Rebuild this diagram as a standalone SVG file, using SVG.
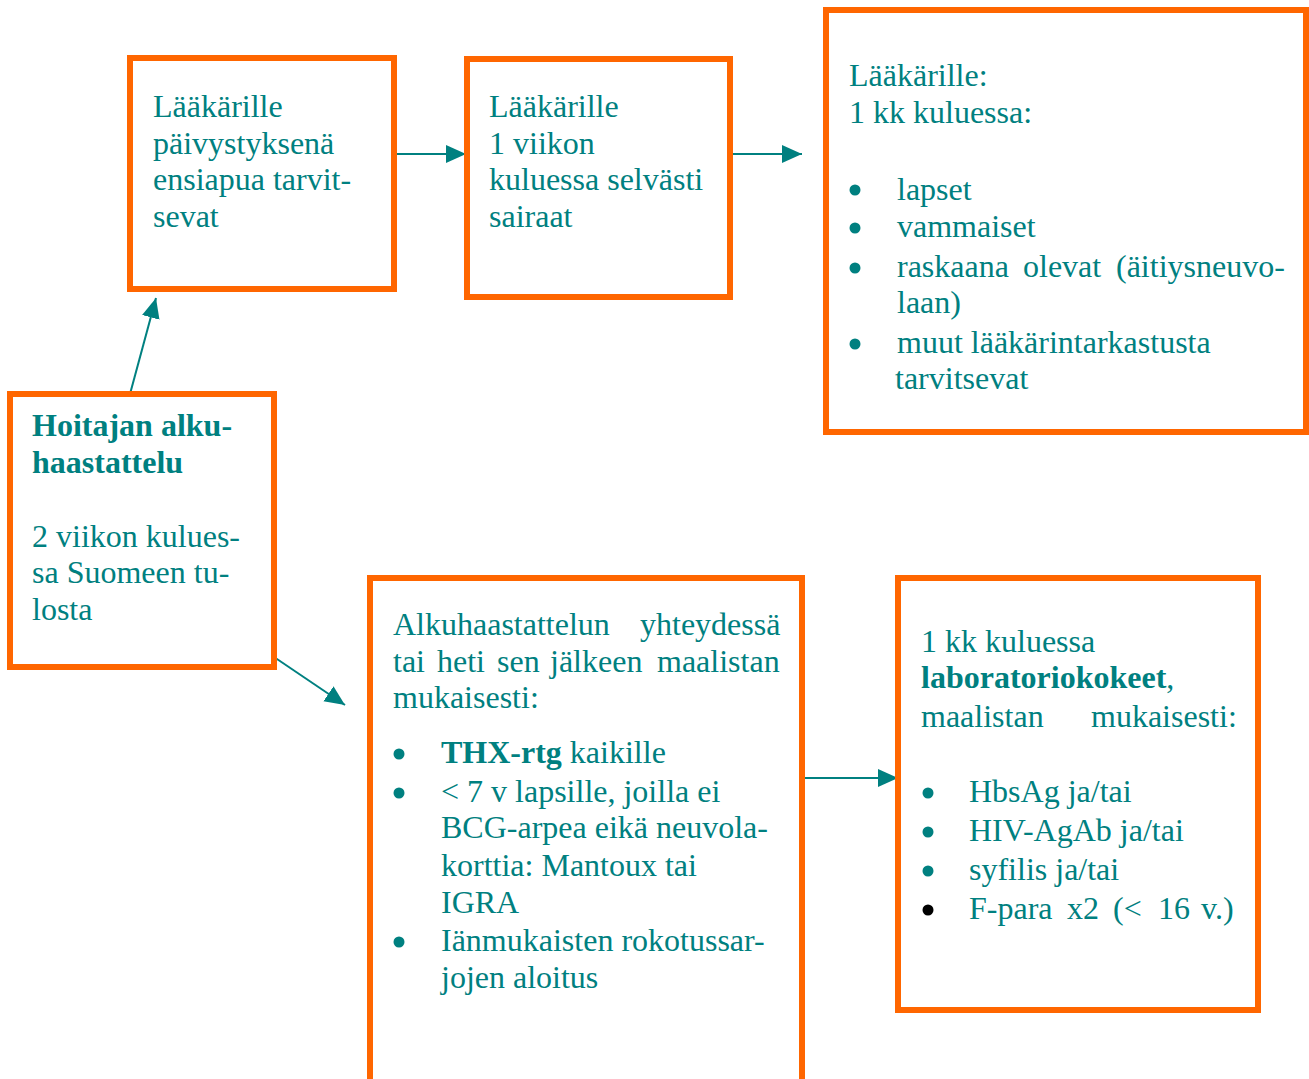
<svg xmlns="http://www.w3.org/2000/svg" width="1309" height="1079" viewBox="0 0 1309 1079">
<style>
.box{fill:#ffffff;stroke:#ff6600;stroke-width:6}
.t{font-family:"Liberation Serif","Times New Roman",serif;font-size:32px;fill:#008080}
.b{font-weight:bold}
.dot{fill:#008080}
.conn{stroke:#008080;stroke-width:2;fill:none}
</style>
<defs>
<marker id="ah" markerUnits="userSpaceOnUse" markerWidth="22" markerHeight="20" refX="20" refY="9" orient="auto" viewBox="0 0 22 20">
<path d="M0,0 L20,9 L0,18 z" fill="#008080"/>
</marker>
</defs>
<rect width="1309" height="1079" fill="#ffffff"/>
<g id="connectors">
<line class="conn" x1="130" y1="394" x2="156" y2="298" marker-end="url(#ah)"/>
<line class="conn" x1="396" y1="154" x2="466" y2="154" marker-end="url(#ah)"/>
<line class="conn" x1="733" y1="154" x2="802" y2="154" marker-end="url(#ah)"/>
<line class="conn" x1="274" y1="657" x2="345" y2="705" marker-end="url(#ah)"/>
<line class="conn" x1="805" y1="778" x2="898" y2="778" marker-end="url(#ah)"/>
</g>
<g id="node-paivystys">
<rect class="box" x="130" y="58" width="264" height="231"/>
<text class="t" x="153" y="117">Lääkärille</text>
<text class="t" x="153" y="153.5">päivystyksenä</text>
<text class="t" x="153" y="190">ensiapua tarvit-</text>
<text class="t" x="153" y="227">sevat</text>
</g>
<g id="node-viikko">
<rect class="box" x="467" y="59" width="263" height="238"/>
<text class="t" x="489" y="117">Lääkärille</text>
<text class="t" x="489" y="153.5">1 viikon</text>
<text class="t" x="489" y="190">kuluessa selvästi</text>
<text class="t" x="489" y="227">sairaat</text>
</g>
<g id="node-kk">
<rect class="box" x="826" y="10" width="480" height="422"/>
<text class="t" x="849" y="86">Lääkärille:</text>
<text class="t" x="849" y="123">1 kk kuluessa:</text>
<circle class="dot" cx="855" cy="190" r="5.5"/>
<text class="t" x="897" y="199.5">lapset</text>
<circle class="dot" cx="855" cy="228" r="5.5"/>
<text class="t" x="897" y="237">vammaiset</text>
<circle class="dot" cx="855" cy="268" r="5.5"/>
<text class="t" y="277"><tspan x="897">raskaana</tspan><tspan x="1023">olevat</tspan><tspan x="1116">(äitiysneuvo-</tspan></text>
<text class="t" x="897" y="313">laan)</text>
<circle class="dot" cx="855" cy="344" r="5.5"/>
<text class="t" x="897" y="353">muut lääkärintarkastusta</text>
<text class="t" x="895" y="389">tarvitsevat</text>
</g>
<g id="node-hoitaja">
<rect class="box" x="10" y="394" width="264" height="273"/>
<text class="t b" x="32" y="436">Hoitajan alku-</text>
<text class="t b" x="32" y="473">haastattelu</text>
<text class="t" x="32" y="547">2 viikon kulues-</text>
<text class="t" x="32" y="583">sa Suomeen tu-</text>
<text class="t" x="32" y="620">losta</text>
</g>
<g id="node-alkuhaastattelu">
<rect class="box" x="370" y="578" width="432" height="530"/>
<text class="t" y="635"><tspan x="393">Alkuhaastattelun</tspan><tspan x="640">yhteydessä</tspan></text>
<text class="t" y="672"><tspan x="393">tai</tspan><tspan x="437">heti</tspan><tspan x="497">sen</tspan><tspan x="550">jälkeen</tspan><tspan x="657">maalistan</tspan></text>
<text class="t" x="393" y="708">mukaisesti:</text>
<circle class="dot" cx="399" cy="754" r="5.5"/>
<text class="t" x="441" y="763"><tspan class="b">THX-rtg</tspan> kaikille</text>
<circle class="dot" cx="399" cy="793" r="5.5"/>
<text class="t" x="441" y="802">&lt; 7 v lapsille, joilla ei</text>
<text class="t" x="441" y="838">BCG-arpea eikä neuvola-</text>
<text class="t" x="441" y="876">korttia: Mantoux tai</text>
<text class="t" x="441" y="913">IGRA</text>
<circle class="dot" cx="399" cy="942" r="5.5"/>
<text class="t" x="441" y="951">Iänmukaisten rokotussar-</text>
<text class="t" x="441" y="988">jojen aloitus</text>
</g>
<g id="node-laboratorio">
<rect class="box" x="898" y="578" width="360" height="432"/>
<text class="t" x="921" y="652">1 kk kuluessa</text>
<text class="t" x="921" y="688"><tspan class="b">laboratoriokokeet</tspan>,</text>
<text class="t" y="727"><tspan x="921">maalistan</tspan><tspan x="1091">mukaisesti:</tspan></text>
<circle class="dot" cx="928" cy="793" r="5.5"/>
<text class="t" x="969" y="802">HbsAg ja/tai</text>
<circle class="dot" cx="928" cy="832" r="5.5"/>
<text class="t" x="969" y="841">HIV-AgAb ja/tai</text>
<circle class="dot" cx="928" cy="871" r="5.5"/>
<text class="t" x="969" y="880">syfilis ja/tai</text>
<circle cx="928" cy="910" r="5.5" fill="#000000"/>
<text class="t" y="919"><tspan x="969">F-para</tspan><tspan x="1067">x2</tspan><tspan x="1113">(&lt;</tspan><tspan x="1158">16</tspan><tspan x="1201">v.)</tspan></text>
</g>
</svg>
